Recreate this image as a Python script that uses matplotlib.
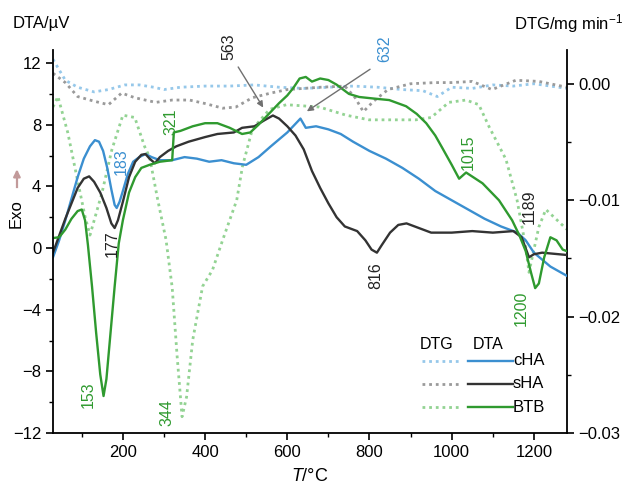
import numpy as np
import matplotlib
matplotlib.use("Agg")
import matplotlib.pyplot as plt
from matplotlib.ticker import MultipleLocator, FuncFormatter

plt.rcParams['font.family'] = ['Liberation Sans', 'DejaVu Sans']
plt.rcParams['mathtext.fontset'] = 'custom'
plt.rcParams['mathtext.rm'] = 'Liberation Sans'
plt.rcParams['mathtext.it'] = 'Liberation Sans:italic'

# DTA curves (uV)
cha_dta_t = [30, 45, 60, 75, 90, 105, 120, 132, 142, 152, 162, 172, 180, 185, 192, 200, 212, 225, 240,
             255, 270, 290, 320, 350, 380, 410, 440, 470, 500, 530, 560, 600, 632, 645, 670, 700, 730,
             760, 800, 840, 880, 920, 960, 1000, 1040, 1080, 1120, 1160, 1180, 1200, 1240, 1280]
cha_dta = [-0.6, 0.5, 1.8, 3.2, 4.6, 5.8, 6.6, 7.0, 6.9, 6.3, 5.2, 3.8, 2.8, 2.6, 3.0, 3.7, 4.8, 5.6, 5.9,
           6.1, 5.9, 5.7, 5.7, 5.9, 5.8, 5.6, 5.7, 5.5, 5.4, 5.9, 6.6, 7.5, 8.4, 7.8, 7.9, 7.7, 7.4,
           6.9, 6.3, 5.8, 5.2, 4.5, 3.7, 3.1, 2.5, 1.9, 1.4, 1.0, 0.5, -0.3, -1.2, -1.8]

sha_dta_t = [30, 45, 60, 75, 90, 105, 118, 130, 145, 160, 172, 180, 188, 200, 215, 230, 245, 255, 265,
             278, 290, 310, 330, 360, 400, 430, 470, 490, 520, 545, 565, 580, 600, 620, 640, 660, 680,
             700, 720, 740, 770, 790, 805, 818, 830, 850, 870, 890, 920, 950, 1000, 1050, 1100, 1150,
             1170, 1188, 1200, 1220, 1280]
sha_dta = [-0.3, 0.8, 1.9, 2.9, 3.9, 4.5, 4.65, 4.3, 3.6, 2.6, 1.6, 1.3, 1.8, 3.0, 4.6, 5.6, 6.05, 6.1, 5.8,
           5.5, 5.9, 6.3, 6.6, 6.9, 7.2, 7.4, 7.5, 7.8, 7.9, 8.3, 8.6, 8.4, 7.9, 7.3, 6.4, 5.0, 3.9,
           2.9, 2.0, 1.4, 1.1, 0.5, -0.1, -0.3, 0.2, 1.0, 1.5, 1.6, 1.3, 1.0, 1.0, 1.1, 1.0, 1.1,
           0.7, -0.6, -0.4, -0.3, -0.45]

btb_dta_t = [30, 45, 60, 75, 90, 100, 108, 115, 125, 135, 145, 153, 160, 170, 180, 190, 200, 215, 230,
             245, 265, 290, 320, 324, 340, 370, 400, 430, 460, 490, 510, 530, 555, 580, 600, 615, 630,
             645, 660, 680, 700, 720, 750, 775, 810, 848, 889, 915, 938, 960, 977, 1000, 1018, 1035,
             1075, 1115, 1147, 1165, 1180, 1193, 1203, 1212, 1225, 1240, 1255, 1270, 1280]
btb_dta = [0.65, 0.7, 1.2, 1.9, 2.4, 2.5, 1.8, 0.2, -2.5, -5.5, -8.2, -9.6, -8.5, -5.5, -2.5, 0.3, 1.8, 3.6, 4.6,
           5.2, 5.4, 5.6, 5.7, 7.5, 7.6, 7.9, 8.1, 8.1, 7.8, 7.4, 7.5, 8.0, 8.7, 9.4, 9.9, 10.4, 11.0,
           11.1, 10.8, 11.0, 10.9, 10.6, 10.0, 9.8, 9.7, 9.6, 9.2, 8.7, 8.1, 7.3, 6.5, 5.4, 4.5, 4.9,
           4.2, 3.1, 1.8, 0.8, -0.2, -1.6, -2.6, -2.3, -0.6, 0.7, 0.5, -0.1, -0.2]

# DTG curves (mg/min)
cha_dtg_t = [30, 45, 60, 90, 130, 165, 205, 240, 275, 300, 340, 400, 460, 520, 580, 640, 700, 760, 820,
             880, 930, 965, 1000, 1050, 1100, 1150, 1200, 1240, 1280]
cha_dtg = [0.0021, 0.0012, 0.0003, -0.0003, -0.0007, -0.0005, -0.0001, -0.0001, -0.0003, -0.0005, -0.0003,
           -0.0002, -0.0002, -0.0001, -0.0003, -0.0004, -0.0003, -0.0002, -0.0003, -0.0005, -0.0006,
           -0.0011, -0.0003, -0.0004, -0.0001, -0.0002, 0.0, -0.0002, -0.0004]

sha_dtg_t = [30, 45, 60, 90, 130, 165, 197, 229, 280, 320, 362, 400, 443, 475, 515, 560, 600, 680, 740,
             765, 785, 810, 845, 900, 960, 1000, 1050, 1098, 1156, 1212, 1280]
sha_dtg = [0.0009, 0.0005, 0.0001, -0.0011, -0.0015, -0.0018, -0.0008, -0.0012, -0.0016, -0.0014, -0.0014,
           -0.0017, -0.0021, -0.0020, -0.0012, -0.0008, -0.0005, -0.0003, -0.0002, -0.0012, -0.0024,
           -0.0015, -0.0005, 0.0, 0.0001, 0.0001, 0.0002, -0.0005, 0.0003, 0.0002, -0.0003]

btb_dtg_t = [30, 42, 66, 88, 108, 120, 149, 173, 200, 229, 253, 265, 285, 305, 320, 332, 344, 355, 370,
             394, 418, 443, 477, 491, 515, 557, 598, 678, 743, 799, 913, 950, 993, 1035, 1066, 1091,
             1132, 1159, 1180, 1188, 1212, 1229, 1280]
btb_dtg = [-0.0020, -0.0011, -0.0042, -0.0080, -0.0114, -0.0130, -0.0094, -0.0057, -0.0027, -0.0029,
           -0.0054, -0.0063, -0.0100, -0.0134, -0.0175, -0.0234, -0.0286, -0.0269, -0.0220, -0.0174,
           -0.0160, -0.0134, -0.0100, -0.0071, -0.0039, -0.0022, -0.0018, -0.0020, -0.0027, -0.0031,
           -0.0031, -0.0029, -0.0016, -0.0014, -0.0018, -0.0037, -0.0065, -0.0100, -0.0140, -0.0162,
           -0.0123, -0.0108, -0.0125]

series_names = ["cHA", "sHA", "BTB"]
dta_colors = ["#3b8fd0", "#333333", "#2f9a2f"]
dtg_colors = ["#96c8ea", "#9a9a9a", "#93d393"]

fig = plt.figure(figsize=(6.27, 4.9), dpi=100)
ax = fig.add_axes([0.0845, 0.1163, 0.8195, 0.7817])
ax2 = ax.twinx()
ax.set_zorder(ax2.get_zorder() + 1)
ax.patch.set_visible(False)

dotted = (0, (1, 1.4))
for t, v, c in zip([cha_dtg_t, sha_dtg_t, btb_dtg_t], [cha_dtg, sha_dtg, btb_dtg], dtg_colors):
    ax2.plot(t, v, color=c, lw=2.0, linestyle=dotted)
for t, v, c in zip([cha_dta_t, sha_dta_t, btb_dta_t], [cha_dta, sha_dta, btb_dta], dta_colors):
    ax.plot(t, v, color=c, lw=1.7)

ax.set_xlim(30, 1280)
ax.set_ylim(-12, 12.85)
ax2.set_ylim(-0.03, 0.0029)

ax.xaxis.set_major_locator(MultipleLocator(200))
ax.xaxis.set_minor_locator(MultipleLocator(100))
ax.yaxis.set_major_locator(MultipleLocator(4))
ax.yaxis.set_minor_locator(MultipleLocator(2))
ax2.yaxis.set_major_locator(MultipleLocator(0.01))
ax2.yaxis.set_minor_locator(MultipleLocator(0.005))
ax2.yaxis.set_major_formatter(FuncFormatter(lambda v, p: ("%.2f" % v).replace("-", "\u2212")))

for a in (ax, ax2):
    a.spines['top'].set_visible(False)
    for s in a.spines.values():
        s.set_linewidth(1.3)
    a.tick_params(which='major', length=5, width=1.2, labelsize=12, direction='out')
    a.tick_params(which='minor', length=3, width=1.0, direction='out')
ax.spines['right'].set_visible(False)
ax2.spines['left'].set_visible(False)
ax2.spines['bottom'].set_visible(False)

ax.set_xlabel("$T$/°C", fontsize=13, labelpad=6)
fig.text(0.02, 0.952, "DTA/µV", fontsize=12, ha='left', va='center')
fig.text(0.993, 0.952, "DTG/mg min$^{-1}$", fontsize=12, ha='right', va='center')
fig.text(0.026, 0.565, "Exo", fontsize=12, rotation=90, ha='center', va='center')
fig.add_artist(plt.Line2D([0.027, 0.027], [0.618, 0.648], color='#c29a9a', lw=1.6))
ax.annotate("", xy=(0.027, 0.66), xytext=(0.027, 0.635), xycoords='figure fraction',
            arrowprops=dict(arrowstyle='-|>', color='#c29a9a', lw=1.6, mutation_scale=10))

# peak labels
kw = dict(rotation=90, fontsize=11.5, ha='center', va='center', clip_on=False)
ax.text(457, 13.05, "563", color="#222222", **kw)
ax.text(836, 12.9, "632", color=dta_colors[0], **kw)
ax.text(195, 5.6, "183", color=dta_colors[0], **kw)
ax.text(173, 0.3, "177", color="#222222", **kw)
ax.text(316, 8.2, "321", color=dta_colors[2], **kw)
ax.text(115, -9.5, "153", color=dta_colors[2], **kw)
ax.text(307, -10.7, "344", color=dta_colors[2], **kw)
ax.text(814, -1.8, "816", color="#222222", **kw)
ax.text(1040, 6.2, "1015", color=dta_colors[2], **kw)
ax.text(1188, 2.7, "1189", color="#222222", **kw)
ax.text(1168, -3.9, "1200", color=dta_colors[2], **kw)

arrow = dict(arrowstyle='-|>', color='#707070', lw=1.0, mutation_scale=9)
ax.annotate("", xy=(545, 8.96), xytext=(477, 11.9), arrowprops=arrow, annotation_clip=False)
ax.annotate("", xy=(642, 8.77), xytext=(807, 11.7), arrowprops=arrow, annotation_clip=False)

# hand-made legend: DTG (dotted) and DTA (solid) columns
ax.text(0.747, 0.232, "DTG", transform=ax.transAxes, fontsize=11.5, ha='center', va='center')
ax.text(0.846, 0.232, "DTA", transform=ax.transAxes, fontsize=11.5, ha='center', va='center')
for i, name in enumerate(series_names):
    yy = 0.189 - i * 0.061
    ax.plot([0.718, 0.792], [yy, yy], transform=ax.transAxes, color=dtg_colors[i], lw=2.0, linestyle=dotted)
    ax.plot([0.807, 0.895], [yy, yy], transform=ax.transAxes, color=dta_colors[i], lw=1.7)
    ax.text(0.895, yy, name, transform=ax.transAxes, fontsize=12, ha='left', va='center')

fig.savefig("out.png", dpi=100)
